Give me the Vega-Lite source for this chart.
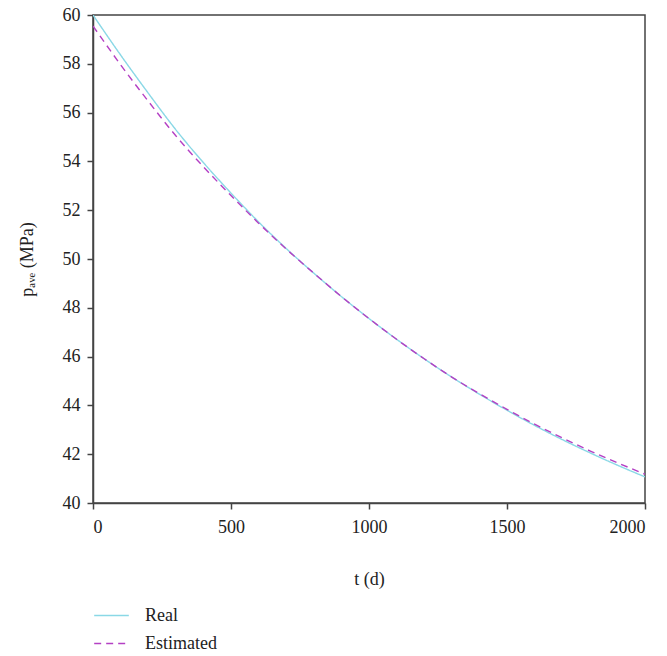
{
  "$schema": "https://vega.github.io/schema/vega-lite/v6.json",
  "width": 552,
  "height": 488,
  "autosize": {"type": "none"},
  "padding": {"left": 93, "top": 15, "right": 22, "bottom": 153},
  "background": "white",
  "config": {
    "view": {"stroke": "#444444", "strokeWidth": 1.5},
    "font": "Liberation Serif",
    "axis": {
      "domainColor": "#444444",
      "domainWidth": 1.5,
      "tickColor": "#444444",
      "tickWidth": 1.5,
      "tickSize": 6,
      "grid": false,
      "labelFont": "Liberation Serif",
      "labelFontSize": 18,
      "labelColor": "#222222",
      "titleFont": "Liberation Serif",
      "titleFontSize": 18,
      "titleFontWeight": "normal",
      "titleColor": "#222222"
    }
  },
  "data": {
    "values": [
      {"t": 0, "p": 60, "series": "Real"},
      {"t": 100, "p": 58.36, "series": "Real"},
      {"t": 200, "p": 56.8, "series": "Real"},
      {"t": 300, "p": 55.3, "series": "Real"},
      {"t": 400, "p": 53.95, "series": "Real"},
      {"t": 500, "p": 52.7, "series": "Real"},
      {"t": 600, "p": 51.52, "series": "Real"},
      {"t": 700, "p": 50.43, "series": "Real"},
      {"t": 800, "p": 49.42, "series": "Real"},
      {"t": 900, "p": 48.46, "series": "Real"},
      {"t": 1000, "p": 47.56, "series": "Real"},
      {"t": 1100, "p": 46.71, "series": "Real"},
      {"t": 1200, "p": 45.91, "series": "Real"},
      {"t": 1300, "p": 45.16, "series": "Real"},
      {"t": 1400, "p": 44.46, "series": "Real"},
      {"t": 1500, "p": 43.8, "series": "Real"},
      {"t": 1600, "p": 43.18, "series": "Real"},
      {"t": 1700, "p": 42.6, "series": "Real"},
      {"t": 1800, "p": 42.06, "series": "Real"},
      {"t": 1900, "p": 41.55, "series": "Real"},
      {"t": 2000, "p": 41.07, "series": "Real"},
      {"t": 0, "p": 59.55, "series": "Estimated"},
      {"t": 100, "p": 57.96, "series": "Estimated"},
      {"t": 200, "p": 56.47, "series": "Estimated"},
      {"t": 300, "p": 55.05, "series": "Estimated"},
      {"t": 400, "p": 53.78, "series": "Estimated"},
      {"t": 500, "p": 52.6, "series": "Estimated"},
      {"t": 600, "p": 51.47, "series": "Estimated"},
      {"t": 700, "p": 50.41, "series": "Estimated"},
      {"t": 800, "p": 49.42, "series": "Estimated"},
      {"t": 900, "p": 48.46, "series": "Estimated"},
      {"t": 1000, "p": 47.56, "series": "Estimated"},
      {"t": 1100, "p": 46.71, "series": "Estimated"},
      {"t": 1200, "p": 45.91, "series": "Estimated"},
      {"t": 1300, "p": 45.16, "series": "Estimated"},
      {"t": 1400, "p": 44.48, "series": "Estimated"},
      {"t": 1500, "p": 43.84, "series": "Estimated"},
      {"t": 1600, "p": 43.23, "series": "Estimated"},
      {"t": 1700, "p": 42.67, "series": "Estimated"},
      {"t": 1800, "p": 42.14, "series": "Estimated"},
      {"t": 1900, "p": 41.65, "series": "Estimated"},
      {"t": 2000, "p": 41.18, "series": "Estimated"}
    ]
  },
  "mark": {"type": "line", "interpolate": "monotone", "strokeWidth": 1.4, "clip": true},
  "encoding": {
    "x": {
      "field": "t",
      "type": "quantitative",
      "scale": {"domain": [0, 2000], "nice": false},
      "axis": {"values": [0, 500, 1000, 1500, 2000], "format": "d", "title": "t (d)", "titlePadding": 34, "labelPadding": 9}
    },
    "y": {
      "field": "p",
      "type": "quantitative",
      "scale": {"domain": [40, 60], "nice": false, "zero": false},
      "axis": {"values": [40, 42, 44, 46, 48, 50, 52, 54, 56, 58, 60], "title": "pₐᵥₑ (MPa)", "titlePadding": 26, "labelPadding": 7}
    },
    "color": {
      "field": "series",
      "type": "nominal",
      "scale": {"domain": ["Real", "Estimated"], "range": ["#8ad8e6", "#b440c4"]},
      "legend": {
        "title": null,
        "orient": "none",
        "legendX": 0,
        "legendY": 582,
        "direction": "vertical",
        "symbolType": "stroke",
        "symbolSize": 1200,
        "symbolStrokeWidth": 1.4,
        "symbolDash": [7, 6],
        "labelFont": "Liberation Serif",
        "labelFontSize": 18,
        "labelColor": "#222222",
        "labelOffset": 15,
        "rowPadding": -7
      }
    },
    "strokeDash": {
      "field": "series",
      "type": "nominal",
      "scale": {"domain": ["Real", "Estimated"], "range": [[1, 0], [7, 5]]},
      "legend": null
    }
  }
}
